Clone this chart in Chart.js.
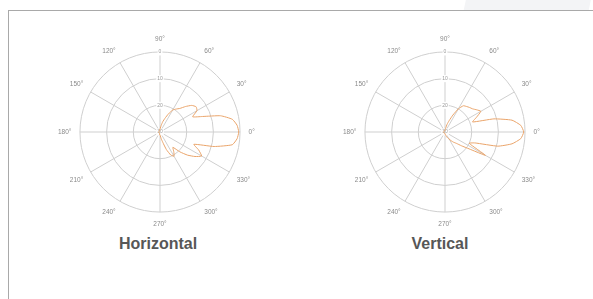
<!DOCTYPE html>
<html>
<head>
<meta charset="utf-8">
<script src="https://cdn.jsdelivr.net/npm/chart.js@4/dist/chart.umd.min.js"></script>
<style>
  html, body { margin: 0; padding: 0; background: #fff; }
  body { width: 593px; height: 299px; position: relative; overflow: hidden; font-family: "Liberation Sans", Arial, sans-serif; }
  .tab { position: absolute; left: 465px; top: -2px; width: 125px; height: 12px; background: #f3f4f6; transform: skewX(-12deg); }
  .frame { position: absolute; left: 8px; top: 10px; width: 600px; height: 300px; border-top: 1px solid #a9a9a9; border-left: 1px solid #a9a9a9; }
  canvas { position: absolute; }
  .title { position: absolute; top: 235px; width: 160px; text-align: center; font-weight: bold; font-size: 16px; color: #575757; }
</style>
</head>
<body>
<div class="tab"></div>
<div class="frame"></div>
<canvas id="hChart" width="204" height="204" style="left:55px;top:31px"></canvas>
<canvas id="vChart" width="204" height="204" style="left:340px;top:31px"></canvas>
<div class="title" style="left:78px">Horizontal</div>
<div class="title" style="left:360px">Vertical</div>
<script>
// relative gain in dB, math angles 0°,5°,...,355° (counter-clockwise from 0° on the right)
const horizontalGain = [
  -0.5, -1, -2.5, -6.5, -13, -16.5, -14, -13.5, -14.5, -16.5, -18.5, -19.5,
  -20.5, -22.5, -24.5, -26, -27.5, -28.5, -29, -29, -29.5, -29.5, -29.5, -29.5,
  -29.5, -29.5, -29.5, -29.5, -29.5, -29.5, -29.5, -29.5, -29.5, -29.5, -29.5, -29.5,
  -29.5, -29.5, -29.5, -29.5, -29.5, -29.5, -29.5, -29.5, -29.5, -29.5, -29.5, -29.5,
  -29.5, -29.5, -29.5, -29.5, -29, -29, -29, -28.5, -27.5, -26, -23, -20.5,
  -19.5, -21, -22.5, -19.5, -16.5, -14, -12, -14, -16.5, -9, -2.5, -1
];
const verticalGain = [
  -0.5, -1.5, -4.5, -11, -19, -17, -14.5, -15.5, -16.5, -17, -17.5, -18,
  -20, -23, -25.5, -27, -28.5, -29, -29.5, -29.5, -29.5, -29.5, -29.5, -29.5,
  -29.5, -29.5, -29.5, -29.5, -29.5, -29.5, -29.5, -29.5, -29.5, -29.5, -29.5, -29.5,
  -29.5, -29.5, -29.5, -29.5, -29.5, -29.5, -29.5, -29.5, -29.5, -29.5, -29.5, -29.5,
  -29.5, -29.5, -29.5, -29.5, -29.5, -29.5, -29.5, -29, -29, -28.5, -28, -27.5,
  -27, -26, -25, -24, -22, -19, -12.5, -20, -18, -9.5, -4.5, -1.5
];
const angleStep = 5;
const radialTicks = [-30, -20, -10, 0];

// radar goes clockwise from the top, so spoke i sits at 90° - i*step
const spokeAngles = Array.from({ length: 360 / angleStep }, (_, i) => (450 - i * angleStep) % 360);

function makePolar(id, gain) {
  const data = spokeAngles.map(a => gain[a / angleStep]);
  const ctx = document.getElementById(id).getContext("2d");
  return new Chart(ctx, {
    type: "radar",
    data: {
      labels: spokeAngles.map(a => a + "°"),
      datasets: [{
        data: data,
        borderColor: "#eaa46a",
        borderWidth: 1,
        fill: false,
        pointRadius: 0,
        tension: 0.15
      }]
    },
    options: {
      responsive: false,
      animation: false,
      plugins: { legend: { display: false }, tooltip: { enabled: false } },
      layout: { padding: 0 },
      scales: {
        r: {
          min: -30,
          max: 0,
          startAngle: 0,
          afterBuildTicks: scale => { scale.ticks = radialTicks.map(v => ({ value: v })); },
          grid: { circular: true, color: "#cfcfcf", lineWidth: 1 },
          angleLines: {
            color: "#cfcfcf",
            lineWidth: c => (spokeAngles[c.index] % 30 === 0 ? 1 : 0)
          },
          ticks: {
            font: { size: 5, family: "Liberation Sans" },
            color: "#999",
            backdropColor: "#fff",
            backdropPadding: 1,
            callback: v => String(Math.abs(v))
          },
          pointLabels: {
            font: { size: 6.5, family: "Liberation Sans" },
            color: "#8a8a8a",
            padding: 5,
            callback: (label, i) => (spokeAngles[i] % 30 === 0 ? label : "")
          }
        }
      }
    }
  });
}

makePolar("hChart", horizontalGain);
makePolar("vChart", verticalGain);
</script>
</body>
</html>
